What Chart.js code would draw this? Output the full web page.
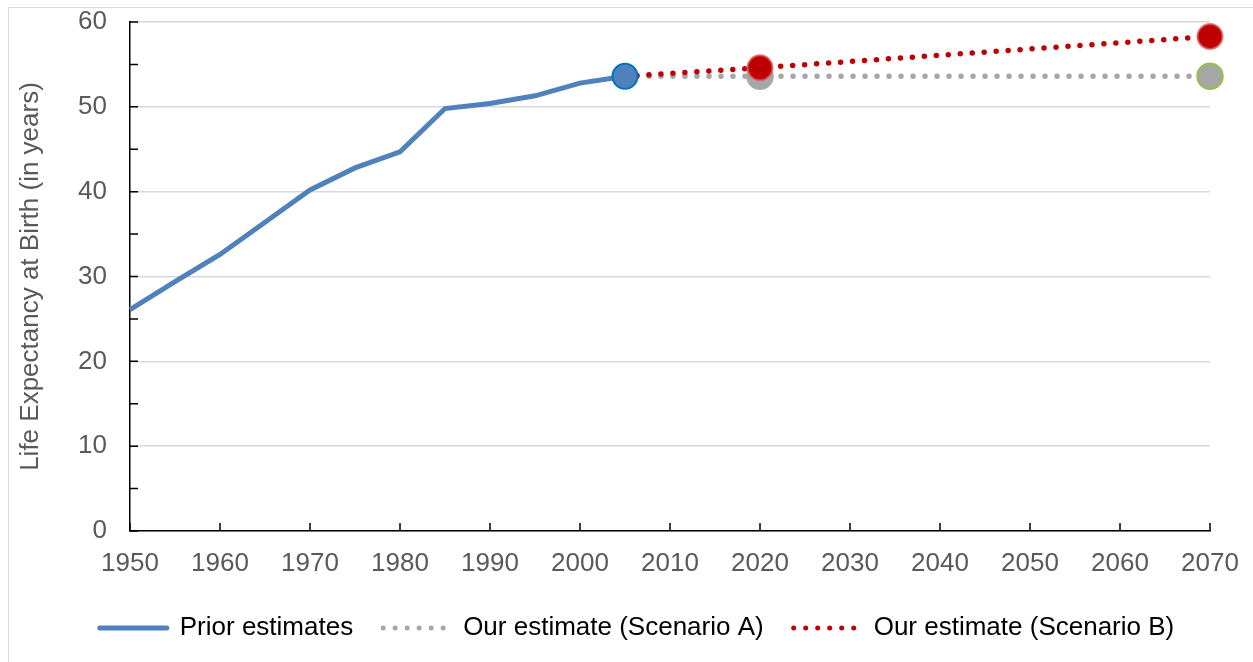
<!DOCTYPE html>
<html>
<head>
<meta charset="utf-8">
<script src="https://cdn.jsdelivr.net/npm/chart.js@4.4.1/dist/chart.umd.min.js"></script>
<style>
  html, body { margin: 0; padding: 0; background: #fff; overflow: hidden; }
  #wrap { position: relative; width: 1253px; height: 662px; overflow: hidden; }
  #frame { position: absolute; left: 8px; top: 7px; width: 1400px; height: 800px; border: 1px solid #d9d9d9; }
  #chart { position: absolute; left: 0; top: 0; }
</style>
</head>
<body>
<div id="wrap">
  <div id="frame"></div>
  <canvas id="chart" width="1274" height="662"></canvas>
</div>
<script>
// prior estimates, 1950-2005
const priorYears = [1950, 1955, 1960, 1965, 1970, 1975, 1980, 1985, 1990, 1995, 2000, 2005];
const priorValues = [26.1, 29.4, 32.6, 36.4, 40.2, 42.8, 44.7, 49.8, 50.4, 51.3, 52.8, 53.6];

// our estimates
const scenarioYears = [2005, 2020, 2070];
const scenarioA = [53.6, 53.6, 53.6];
const scenarioB = [53.6, 54.6, 58.3];

const labelColor = "#595959";
Chart.defaults.font.family = "'Liberation Sans', Arial, sans-serif";
Chart.defaults.font.size = 26;
Chart.defaults.color = labelColor;

const toPoints = (xs, ys) => xs.map((x, i) => ({ x, y: ys[i] }));

// small tick marks drawn inside the plot, like the original
const innerTicks = {
  id: "innerTicks",
  beforeDatasetsDraw(chart) {
    const { ctx, chartArea, scales } = chart;
    ctx.save();
    ctx.strokeStyle = "#000";
    ctx.lineWidth = 1.5;
    ctx.beginPath();
    const yt = scales.y.ticks.map((t) => t.value);
    const yAll = [];
    yt.forEach((v, i) => {
      yAll.push(v);
      if (i < yt.length - 1) yAll.push((v + yt[i + 1]) / 2);
    });
    yAll.forEach((v) => {
      const py = scales.y.getPixelForValue(v);
      ctx.moveTo(chartArea.left, py);
      ctx.lineTo(chartArea.left + 8, py);
    });
    scales.x.ticks.forEach((t) => {
      const px = scales.x.getPixelForValue(t.value);
      ctx.moveTo(px, chartArea.bottom);
      ctx.lineTo(px, chartArea.bottom - 8);
    });
    ctx.stroke();
    ctx.restore();
  },
};

new Chart(document.getElementById("chart"), {
  type: "line",
  data: {
    datasets: [
      {
        label: "Prior estimates",
        data: toPoints(priorYears, priorValues),
        borderColor: "#4f81bd",
        borderWidth: 5,
        clip: false,
        pointRadius: priorValues.map((v, i) => (i === priorValues.length - 1 ? 12.5 : 0)),
        pointBackgroundColor: "#4f81bd",
        pointBorderColor: "#0070c0",
        pointBorderWidth: 2,
      },
      {
        label: "Our estimate (Scenario B)",
        data: toPoints(scenarioYears, scenarioB),
        borderColor: "#c00000",
        borderWidth: 5.5,
        borderDash: [0, 12],
        borderCapStyle: "round",
        clip: false,
        pointRadius: [0, 12.5, 12.5],
        pointBackgroundColor: "#c00000",
        pointBorderColor: "rgba(214,100,100,0.8)",
        pointBorderWidth: 2,
      },
      {
        label: "Our estimate (Scenario A)",
        data: toPoints(scenarioYears, scenarioA),
        borderColor: "#a6a6a6",
        borderWidth: 5.5,
        borderDash: [0, 12],
        borderCapStyle: "round",
        clip: false,
        pointRadius: [0, 12.5, 12.5],
        pointBackgroundColor: "#a6a6a6",
        pointBorderColor: ["#a6a6a6", "#a6a6a6", "#9bbb59"],
        pointBorderWidth: 2.5,
      },
    ],
  },
  options: {
    responsive: false,
    animation: false,
    layout: { padding: { top: 22, left: 0, right: 0, bottom: 11 } },
    plugins: {
      tooltip: { enabled: false },
      legend: {
        position: "bottom",
        labels: {
          usePointStyle: true,
          pointStyleWidth: 67,
          padding: 30,
          color: labelColor,
          font: { size: 26 },
          generateLabels: () => [
            { text: "Prior estimates", strokeStyle: "#4f81bd", fillStyle: "#4f81bd", lineWidth: 5, lineCap: "round", lineDash: [], pointStyle: "line", datasetIndex: 0 },
            { text: "Our estimate (Scenario A)", strokeStyle: "#a6a6a6", fillStyle: "#a6a6a6", lineWidth: 5, lineCap: "round", lineDash: [0, 12], pointStyle: "line", datasetIndex: 2 },
            { text: "Our estimate (Scenario B)", strokeStyle: "#c00000", fillStyle: "#c00000", lineWidth: 5, lineCap: "round", lineDash: [0, 12], pointStyle: "line", datasetIndex: 1 },
          ],
        },
      },
    },
    scales: {
      x: {
        type: "linear",
        min: 1950,
        max: 2070,
        ticks: { stepSize: 10, padding: 17, color: labelColor, callback: (v) => String(v) },
        grid: { display: false, drawTicks: false },
        border: { display: true, color: "#000", width: 1.5 },
        afterFit: (s) => { s.height = 54; },
      },
      y: {
        min: 0,
        max: 60,
        ticks: { stepSize: 10, padding: 23, color: labelColor },
        grid: { color: "#d9d9d9", lineWidth: 1.5, drawTicks: false },
        border: { display: true, color: "#000", width: 1.5 },
        title: {
          display: true,
          text: "Life Expectancy at Birth (in years)",
          color: labelColor,
          font: { size: 26 },
          padding: { top: 15, bottom: 0 },
        },
        afterFit: (s) => {
          s.width = 130;
          s.paddingTop = 0;
          s.paddingBottom = 0;
        },
      },
      pad: {
        type: "linear",
        position: "right",
        display: true,
        ticks: { display: false },
        grid: { display: false, drawOnChartArea: false },
        border: { display: false },
        afterFit: (s) => { s.width = 64; },
      },
    },
  },
  plugins: [innerTicks],
});
</script>
</body>
</html>
